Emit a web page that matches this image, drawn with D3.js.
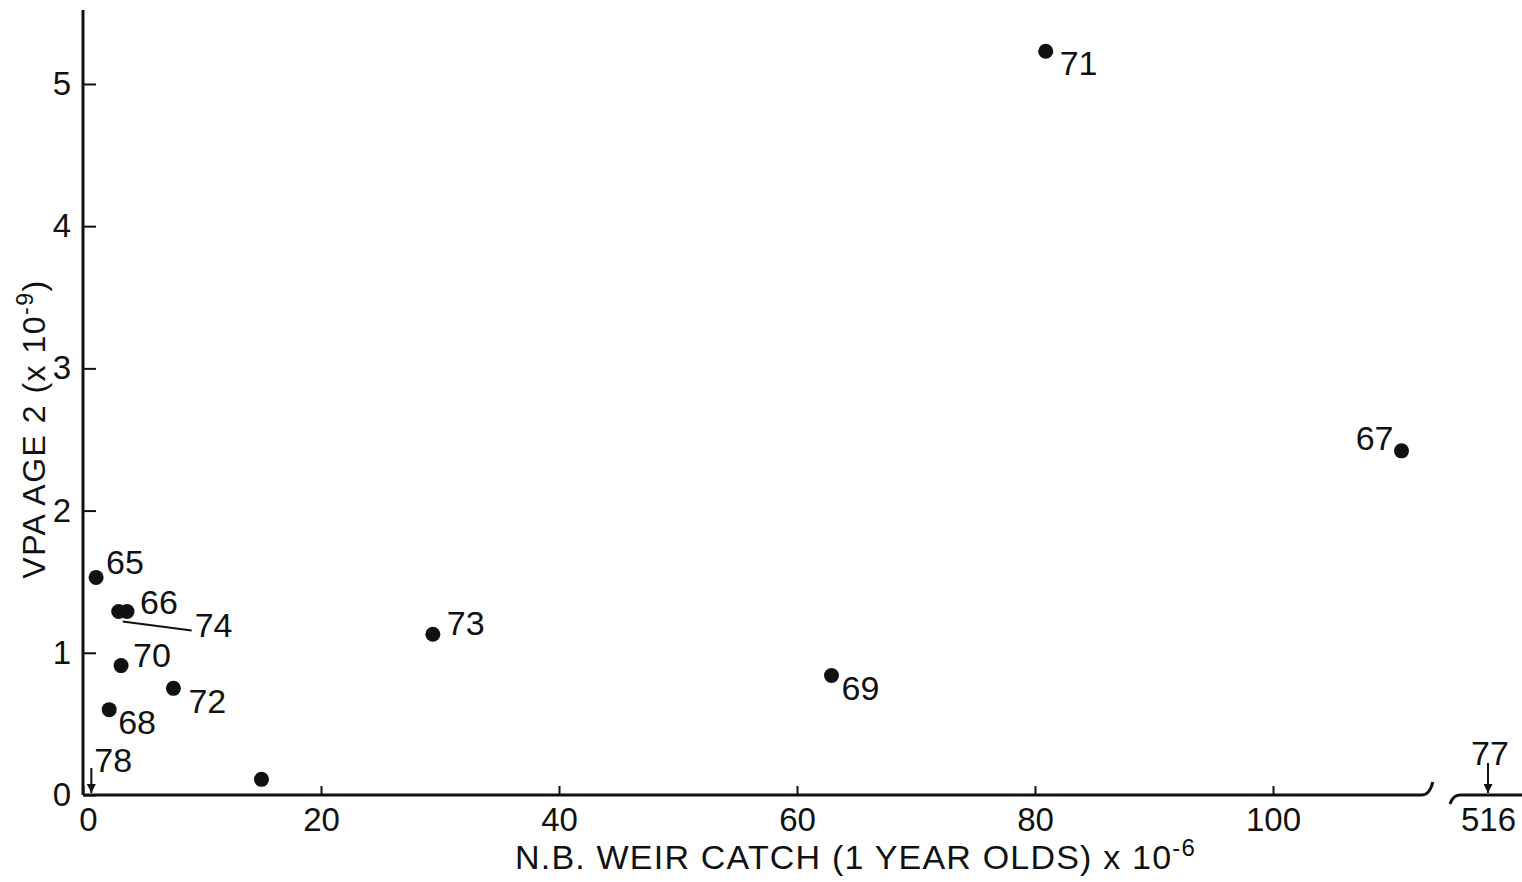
<!DOCTYPE html>
<html>
<head>
<meta charset="utf-8">
<script src="https://cdn.jsdelivr.net/npm/d3@7"></script>
<style>
  html, body { margin: 0; padding: 0; background: #fff; }
  svg { display: block; }
  text { font-family: "Liberation Sans", Arial, sans-serif; fill: #111; }
</style>
</head>
<body>
<svg id="chart" width="1522" height="882"></svg>
<script>
// ---- data ----
const yearLabels = ["71", "67", "69", "73", "65", "66", "74", "70", "72", "68", ""];
const weirCatch  = [80.9, 110.8, 62.9, 29.4, 1.1, 3.7, 3.0, 3.2, 7.6, 2.2, 15.0];
const vpaAge2    = [5.23, 2.42, 0.84, 1.13, 1.53, 1.29, 1.29, 0.91, 0.75, 0.60, 0.11];
// off-scale points marked by arrows at zero VPA
const arrowLabels = ["78", "77"];
const arrowCatch  = [0.7, 516];
const xTicks = [0, 20, 40, 60, 80, 100];
const xBreakTicks = [516];
const yTicks = [0, 1, 2, 3, 4, 5];

// ---- layout / style ----
const svg = d3.select("#chart");
const ink = "#111";
const x = d3.scaleLinear().domain([0, 112.5]).range([83, 1421.75]);
const xB = d3.scaleLinear().domain([510, 522]).range([1452, 1524]);
const y = d3.scaleLinear().domain([0, 5.52]).range([795, 10]);
const labelOffsets = {
  "71": [14, 24, "start"], "67": [-8, -1, "end"], "69": [10, 24, "start"],
  "73": [14, 1, "start"], "65": [10, -3, "start"], "66": [13, 2, "start"],
  "74": [76, 25, "start"], "70": [12, 1, "start"], "72": [15, 25, "start"],
  "68": [9, 24, "start"], "": [0, 0, "start"]
};

// axes (ticks via d3 axis, custom domain lines)
const gx = svg.append("g").attr("transform", `translate(0,${y(0)})`)
  .call(d3.axisBottom(x).tickValues(xTicks).tickSizeInner(-9).tickSizeOuter(0).tickPadding(13).tickFormat(d3.format("d")));
const gxb = svg.append("g").attr("transform", `translate(0,${y(0)})`)
  .call(d3.axisBottom(xB).tickValues(xBreakTicks).tickSizeInner(0).tickSizeOuter(0).tickPadding(13).tickFormat(d3.format("d")));
const gy = svg.append("g").attr("transform", `translate(${x(0)},0)`)
  .call(d3.axisLeft(y).tickValues(yTicks).tickSizeInner(-13).tickSizeOuter(0).tickPadding(12).tickFormat(d3.format("d")));
[gx, gxb, gy].forEach(g => {
  g.select(".domain").remove();
  g.selectAll(".tick line").attr("stroke", ink).attr("stroke-width", 2);
  g.selectAll(".tick text").attr("font-size", 33).attr("fill", ink)
    .style("font-family", '"Liberation Sans", Arial, sans-serif');
});
gx.selectAll(".tick").filter(d => d === 0).select("text").attr("dx", 5);

// axis lines
svg.append("line").attr("x1", x(0)).attr("x2", x(0)).attr("y1", y(0)).attr("y2", y(5.52))
  .attr("stroke", ink).attr("stroke-width", 3);
svg.append("path")
  .attr("d", `M${x(0)},${y(0)} L${x(112.5)},${y(0)} q8,0 11,-13`)
  .attr("fill", "none").attr("stroke", ink).attr("stroke-width", 3);
svg.append("path")
  .attr("d", `M${xB(510) - 2},${y(0) + 9} q3,-9 10,-9 L${xB(522)},${y(0)}`)
  .attr("fill", "none").attr("stroke", ink).attr("stroke-width", 3);

// points
const pts = yearLabels.map((lab, i) => ({ lab, cx: weirCatch[i], vy: vpaAge2[i] }));
svg.append("g").selectAll("circle").data(pts).join("circle")
  .attr("cx", d => x(d.cx)).attr("cy", d => y(d.vy)).attr("r", 7.5).attr("fill", ink);
svg.append("g").selectAll("text").data(pts.filter(d => d.lab)).join("text")
  .attr("x", d => x(d.cx) + labelOffsets[d.lab][0])
  .attr("y", d => y(d.vy) + labelOffsets[d.lab][1])
  .attr("text-anchor", d => labelOffsets[d.lab][2])
  .attr("font-size", 34)
  .text(d => d.lab);

// leader line for 74
const p74 = pts.find(d => d.lab === "74");
svg.append("line")
  .attr("x1", x(p74.cx) + 4).attr("y1", y(p74.vy) + 10)
  .attr("x2", x(p74.cx) + 73).attr("y2", y(p74.vy) + 19)
  .attr("stroke", ink).attr("stroke-width", 2);

// arrows for off-scale points
const defs = svg.append("defs");
defs.append("marker").attr("id", "ah").attr("viewBox", "0 0 10 10")
  .attr("refX", 10).attr("refY", 5).attr("markerWidth", 9).attr("markerHeight", 9)
  .attr("markerUnits", "userSpaceOnUse").attr("orient", "auto")
  .append("path").attr("d", "M0,0 L10,5 L0,10 Z").attr("fill", ink);
arrowLabels.forEach((lab, i) => {
  const px = lab === "77" ? xB(arrowCatch[i]) : x(arrowCatch[i]);
  const top = lab === "77" ? y(0) - 32 : y(0) - 27;
  svg.append("line").attr("x1", px).attr("x2", px).attr("y1", top).attr("y2", y(0) - 2)
    .attr("stroke", ink).attr("stroke-width", 2).attr("marker-end", "url(#ah)");
  svg.append("text")
    .attr("x", lab === "77" ? px + 2 : px + 3)
    .attr("y", lab === "77" ? y(0) - 30 : y(0) - 23)
    .attr("text-anchor", lab === "77" ? "middle" : "start")
    .attr("font-size", 34).text(lab);
});

// axis titles
const xt = svg.append("text").attr("x", 515).attr("y", 869).attr("font-size", 34)
  .attr("letter-spacing", 1.2);
xt.append("tspan").text("N.B. WEIR CATCH (1 YEAR OLDS) x 10");
xt.append("tspan").attr("dy", -13).attr("font-size", 24).text("-6");

const yt = svg.append("text").attr("transform", "translate(45,429) rotate(-90)")
  .attr("text-anchor", "middle").attr("font-size", 32).attr("letter-spacing", 1.5);
yt.append("tspan").text("VPA AGE 2 (x 10");
yt.append("tspan").attr("dy", -12).attr("font-size", 23).text("-9");
yt.append("tspan").attr("dy", 12).text(")");
</script>
</body>
</html>
